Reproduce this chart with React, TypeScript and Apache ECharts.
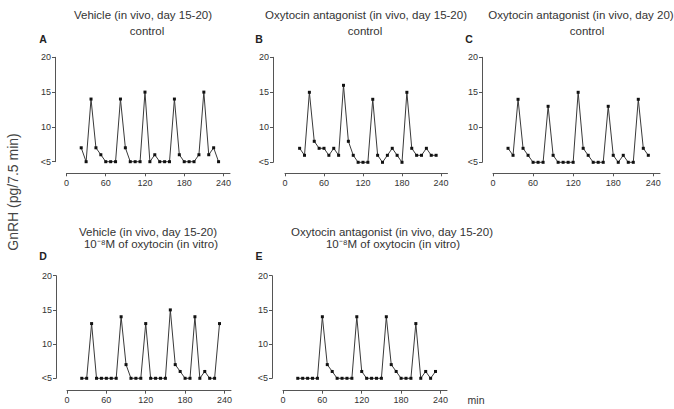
import React, { useEffect, useRef } from "react";
import * as echarts from "echarts";

// sampling times (min)
const minutes = [22.5, 30, 37.5, 45, 52.5, 60, 67.5, 75, 82.5, 90, 97.5, 105, 112.5, 120, 127.5, 135, 142.5, 150, 157.5, 165, 172.5, 180, 187.5, 195, 202.5, 210, 217.5, 225, 232.5];

// GnRH (pg/7.5 min) per panel
const seriesA = [7, 5, 14, 7, 6, 5, 5, 5, 14, 7, 5, 5, 5, 15, 5, 6, 5, 5, 5, 14, 6, 5, 5, 5, 6, 15, 6, 7, 5];
const seriesB = [7, 6, 15, 8, 7, 7, 6, 7, 6, 16, 8, 6, 5, 5, 5, 14, 6, 5, 6, 7, 6, 5, 15, 7, 6, 6, 7, 6, 6];
const seriesC = [7, 6, 14, 7, 6, 5, 5, 5, 13, 6, 5, 5, 5, 5, 15, 7, 6, 5, 5, 5, 13, 6, 5, 6, 5, 5, 14, 7, 6];
const seriesD = [5, 5, 13, 5, 5, 5, 5, 5, 14, 7, 5, 5, 5, 13, 5, 5, 5, 5, 15, 7, 6, 5, 5, 14, 5, 6, 5, 5, 13];
const seriesE = [5, 5, 5, 5, 5, 14, 7, 6, 5, 5, 5, 5, 14, 6, 5, 5, 5, 5, 14, 7, 6, 5, 5, 5, 13, 5, 6, 5, 6];

const xTickValues = [0, 60, 120, 180, 240];
const yTickLabels: Record<number, string> = { 5: "<5", 10: "10", 15: "15", 20: "20" };

const titlesA = ["Vehicle (in vivo, day 15-20)", "control"];
const titlesB = ["Oxytocin antagonist (in vivo, day 15-20)", "control"];
const titlesC = ["Oxytocin antagonist (in vivo, day 20)", "control"];
const titlesD = ["Vehicle (in vivo, day 15-20)", "10\u207B\u2078M of oxytocin (in vitro)"];
const titlesE = ["Oxytocin antagonist (in vivo, day 15-20)", "10\u207B\u2078M of oxytocin (in vitro)"];
const panelLetters = ["A", "B", "C", "D", "E"];
const yAxisTitle = "GnRH (pg/7.5 min)";
const xAxisUnit = "min";

const FONT = "'Liberation Sans', Arial, Helvetica, sans-serif";
const TEXT = "#333";
const AXIS = "#555";

const layout = [
  { left: 66.5, top: 57.3, width: 163.5, height: 104.4, xOff: 11.6, yOff: 11.5, letter: [43, 39], t1: [143, 15], t2: [147, 31] },
  { left: 285, top: 57.3, width: 162.5, height: 105, xOff: 11, yOff: 12, letter: [259, 39], t1: [366, 15], t2: [365, 31] },
  { left: 493, top: 57.3, width: 167, height: 105, xOff: 11, yOff: 11, letter: [469, 39], t1: [581, 15], t2: [587, 31] },
  { left: 67, top: 275.7, width: 164, height: 102.6, xOff: 12.4, yOff: 11, letter: [43, 256], t1: [148, 232], t2: [151, 244] },
  { left: 283, top: 275.7, width: 164, height: 102.6, xOff: 12.4, yOff: 11, letter: [259, 256], t1: [392, 232], t2: [393, 244] },
];

const allSeries = [seriesA, seriesB, seriesC, seriesD, seriesE];
const allTitles = [titlesA, titlesB, titlesC, titlesD, titlesE];

function txt(x: number, y: number, text: string, size: number, extra: any = {}) {
  return {
    type: "text",
    x,
    y,
    ...extra.el,
    style: {
      text,
      fontSize: size,
      fontFamily: FONT,
      fill: TEXT,
      align: "center",
      verticalAlign: "middle",
      textAlign: "center",
      textVerticalAlign: "middle",
      ...(extra.style || {}),
    },
  };
}

export default function App() {
  const ref = useRef<HTMLDivElement>(null);

  useEffect(() => {
    if (!ref.current) return;
    const chart = echarts.init(ref.current, undefined, { renderer: "svg" });

    const grid = layout.map((l) => ({ left: l.left, top: l.top, width: l.width, height: l.height, containLabel: false }));
    const xAxis = layout.map((l, i) => ({
      gridIndex: i,
      type: "value",
      min: 0,
      max: 250,
      position: "bottom",
      offset: l.xOff,
      axisLine: { show: true, onZero: false, lineStyle: { color: AXIS, width: 1 } },
      axisTick: { show: true, length: 3, customValues: xTickValues, lineStyle: { color: AXIS, width: 1 } },
      axisLabel: { show: true, customValues: xTickValues, fontSize: 9, color: TEXT, margin: 5, fontFamily: FONT },
      splitLine: { show: false },
    }));
    const yAxis = layout.map((l, i) => ({
      gridIndex: i,
      type: "value",
      min: 5,
      max: 20,
      interval: 5,
      position: "left",
      offset: l.yOff,
      axisLine: { show: true, onZero: false, lineStyle: { color: AXIS, width: 1 } },
      axisTick: { show: true, length: 3, lineStyle: { color: AXIS, width: 1 } },
      axisLabel: {
        show: true,
        fontSize: 9,
        color: TEXT,
        margin: 4,
        fontFamily: FONT,
        formatter: (v: number) => yTickLabels[v] ?? String(v),
      },
      splitLine: { show: false },
    }));
    const series = allSeries.map((vals, i) => ({
      type: "line",
      xAxisIndex: i,
      yAxisIndex: i,
      data: minutes.map((t, k) => [t, vals[k]]),
      symbol: "rect",
      symbolSize: 3,
      showSymbol: true,
      lineStyle: { color: "#3a3a3a", width: 1 },
      itemStyle: { color: "#111" },
      emphasis: { disabled: true },
      clip: false,
    }));

    const graphics: any[] = [];
    layout.forEach((l, i) => {
      graphics.push(txt(l.t1[0], l.t1[1], allTitles[i][0], 11.5));
      graphics.push(txt(l.t2[0], l.t2[1], allTitles[i][1], 11.5));
      graphics.push(txt(l.letter[0], l.letter[1], panelLetters[i], 10.5, { style: { fontWeight: "bold", fill: "#222" } }));
    });
    graphics.push(txt(13, 192, yAxisTitle, 14, { el: { rotation: Math.PI / 2 }, style: { fill: "#444" } }));
    graphics.push(txt(476, 400, xAxisUnit, 10.5));

    chart.setOption({
      animation: false,
      backgroundColor: "#fff",
      grid,
      xAxis,
      yAxis,
      series,
      graphic: graphics,
    });
    return () => chart.dispose();
  }, []);

  return (
    <div
      ref={ref}
      style={{ position: "fixed", left: 0, top: 0, width: 674, height: 409, background: "#fff" }}
    />
  );
}
